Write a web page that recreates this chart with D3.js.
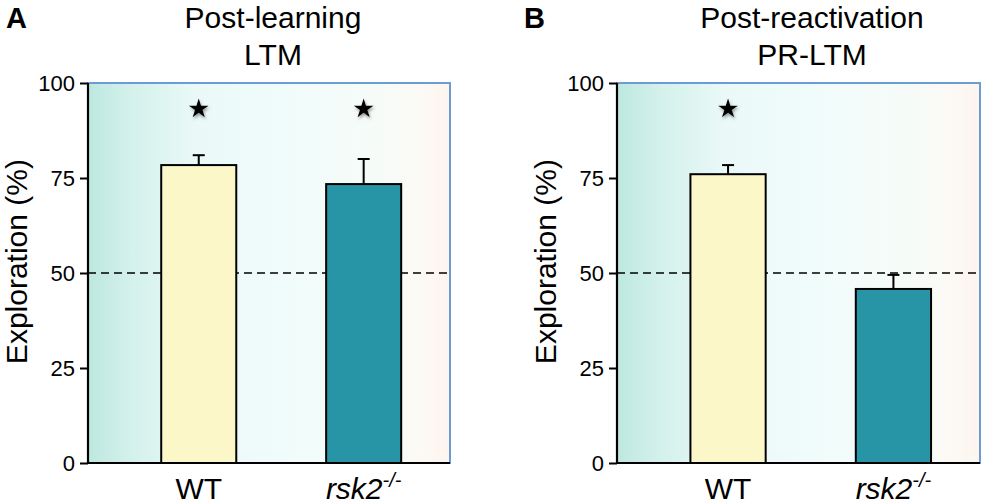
<!DOCTYPE html>
<html>
<head>
<meta charset="utf-8">
<script src="https://cdn.jsdelivr.net/npm/d3@7"></script>
<style>
  html, body { margin: 0; padding: 0; background: #fff; }
  svg { display: block; font-family: Arial, "Liberation Sans", sans-serif; }
</style>
</head>
<body>
<div class="svg-container"></div>
<script>
// values
const categories = ["WT", "rsk2"];
const ltmMeans = [78.4, 73.4];
const ltmErr = [2.6, 6.6];
const ltmStars = [true, true];
const prMeans = [76.0, 45.8];
const prErr = [2.4, 3.7];
const prStars = [true, false];
const yTicks = [0, 25, 50, 75, 100];
const chanceLevel = 50;
const barColors = ["#fbf7c9", "#2795a6"];

const width = 981, height = 504;
const svg = d3.select(".svg-container").append("svg")
  .attr("width", width).attr("height", height)
  .attr("viewBox", "0 0 " + width + " " + height);

const defs = svg.append("defs");
let grad = defs.append("linearGradient").attr("id", "bg").attr("x1", 0).attr("x2", 1).attr("y1", 0).attr("y2", 0);
[[0, "#bde8df"], [0.12, "#d4f1ec"], [0.3, "#eaf9f8"], [0.55, "#f0fcfb"], [0.8, "#f6fbf8"], [0.93, "#fcf9f5"], [1, "#fdf4ee"]]
  .forEach(s => grad.append("stop").attr("offset", s[0]).attr("stop-color", s[1]));
let shadow = defs.append("filter").attr("id", "glow").attr("x", "-50%").attr("y", "-50%").attr("width", "200%").attr("height", "200%");
shadow.append("feDropShadow").attr("dx", 1).attr("dy", 2).attr("stdDeviation", 1.6).attr("flood-color", "#555").attr("flood-opacity", 0.6);

const panels = [
  {letter: "A", title: ["Post-learning", "LTM"], means: ltmMeans, err: ltmErr, stars: ltmStars, x0: 88, x1: 450, titleX: 273, letterX: 6},
  {letter: "B", title: ["Post-reactivation", "PR-LTM"], means: prMeans, err: prErr, stars: prStars, x0: 617, x1: 980, titleX: 812, letterX: 524}
];

const y = d3.scaleLinear().domain([0, 100]).range([463, 83]);

panels.forEach(p => {
  const g = svg.append("g");
  const x = d3.scaleBand().domain(categories).range([p.x0, p.x1])
    .paddingInner(0.545).paddingOuter(0.37).align(0.6);

  // plot background + blue frame
  g.append("rect").attr("x", p.x0).attr("y", y(100)).attr("width", p.x1 - p.x0).attr("height", y(0) - y(100))
    .attr("fill", "url(#bg)").attr("stroke", "#6b9dd4").attr("stroke-width", 2);

  // dashed chance line
  g.append("line").attr("x1", p.x0).attr("x2", p.x1).attr("y1", y(chanceLevel)).attr("y2", y(chanceLevel))
    .attr("stroke", "#000").attr("stroke-width", 1.6).attr("stroke-dasharray", "8,5");

  const data = categories.map((c, i) => ({c: c, m: p.means[i], e: p.err[i], s: p.stars[i], col: barColors[i]}));

  // error bars (upper only)
  const eb = g.selectAll(".eb").data(data).enter().append("g");
  eb.append("line").attr("x1", d => x(d.c) + x.bandwidth() / 2).attr("x2", d => x(d.c) + x.bandwidth() / 2)
    .attr("y1", d => y(d.m)).attr("y2", d => y(d.m + d.e)).attr("stroke", "#000").attr("stroke-width", 2);
  eb.append("line").attr("x1", d => x(d.c) + x.bandwidth() / 2 - 6).attr("x2", d => x(d.c) + x.bandwidth() / 2 + 6)
    .attr("y1", d => y(d.m + d.e)).attr("y2", d => y(d.m + d.e)).attr("stroke", "#000").attr("stroke-width", 2);

  g.selectAll(".bar").data(data).enter().append("rect")
    .attr("x", d => x(d.c)).attr("width", x.bandwidth())
    .attr("y", d => y(d.m)).attr("height", d => y(0) - y(d.m))
    .attr("fill", d => d.col).attr("stroke", "#000").attr("stroke-width", 2);

  // significance stars
  g.selectAll(".star").data(data.filter(d => d.s)).enter().append("path")
    .attr("d", d3.symbol().type(d3.symbolStar).size(120))
    .attr("transform", d => "translate(" + (x(d.c) + x.bandwidth() / 2) + "," + y(93.2) + ")")
    .attr("fill", "#000").attr("filter", "url(#glow)");

  // y axis
  const ya = g.append("g").attr("transform", "translate(" + p.x0 + ",0)")
    .call(d3.axisLeft(y).tickValues(yTicks).tickSize(8).tickPadding(5));
  ya.attr("font-size", null).attr("font-family", null);
  ya.select(".domain").attr("stroke-width", 2.2).attr("d", "M0," + y(100) + "V" + y(0));
  ya.selectAll(".tick line").attr("stroke-width", 2);
  ya.selectAll("text").style("font-size", "22px").attr("fill", "#000");

  // x baseline
  g.append("line").attr("x1", p.x0 - 1).attr("x2", p.x1).attr("y1", y(0)).attr("y2", y(0))
    .attr("stroke", "#000").attr("stroke-width", 2.2);

  // x labels
  const xl = g.selectAll(".xl").data(categories).enter().append("text")
    .attr("x", d => x(d) + x.bandwidth() / 2).attr("y", 499)
    .attr("text-anchor", "middle").attr("font-size", "30px");
  xl.filter(d => d === "WT").text(d => d);
  const ko = xl.filter(d => d !== "WT").attr("font-style", "italic");
  ko.append("tspan").text(d => d);
  ko.append("tspan").attr("font-size", "20px").attr("dy", -12).text("-/-");

  // y label
  g.append("text").attr("transform", "translate(" + (p.x0 - 61) + "," + y(53) + ") rotate(-90)")
    .attr("text-anchor", "middle").attr("font-size", "30px").text("Exploration (%)");

  // titles
  g.selectAll(".tt").data(p.title).enter().append("text")
    .attr("x", p.titleX).attr("y", (d, i) => 28 + i * 37)
    .attr("text-anchor", "middle").attr("font-size", "30px").text(d => d);

  g.append("text").attr("x", p.letterX).attr("y", 28).attr("font-size", "29px").attr("font-weight", "bold").text(p.letter);
});
</script>
</body>
</html>
